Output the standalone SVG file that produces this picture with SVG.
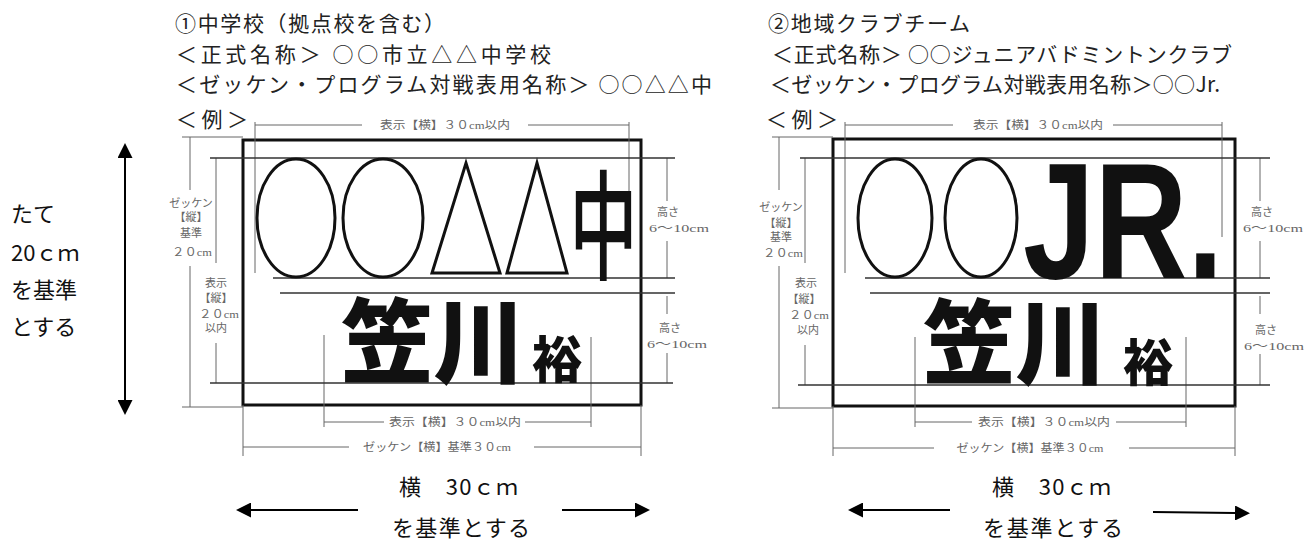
<svg xmlns="http://www.w3.org/2000/svg" width="1315" height="540" viewBox="0 0 1315 540">
<style>
.title{font-family:"Noto Sans CJK JP","Noto Sans",sans-serif;font-size:21px;fill:#222}
.big{font-family:"Noto Sans CJK JP",sans-serif;font-size:22px;fill:#111}
.dimt{font-family:"Liberation Serif","Noto Sans CJK JP",serif;font-size:11px;fill:#666;text-anchor:middle}
.dim{stroke:#666;stroke-width:1;fill:none}
.row{stroke:#333;stroke-width:1.3;fill:none}
.bib{stroke:#111;stroke-width:3;fill:none}
.shape{stroke:#111;stroke-width:3;fill:none}
.name{font-family:"Noto Sans CJK JP",sans-serif;font-weight:900;fill:#111}
.arrow{stroke:#000;stroke-width:2;fill:none}
</style>
<defs>
<marker id="ah" viewBox="0 0 15 15" refX="0" refY="7.5" markerWidth="15" markerHeight="15" markerUnits="userSpaceOnUse" orient="auto-start-reverse"><path d="M0,0 L15,7.5 L0,15 Z" fill="#000"/></marker>
</defs>
<rect width="1315" height="540" fill="#fff"/>

<g id="titles-left">
<text class="title" x="175" y="31" textLength="270" lengthAdjust="spacing">①中学校（拠点校を含む）</text>
<text class="title" x="176" y="62" textLength="375" lengthAdjust="spacing">＜正式名称＞ ○○市立△△中学校</text>
<text class="title" x="176" y="92" textLength="536" lengthAdjust="spacing">＜ゼッケン・プログラム対戦表用名称＞ ○○△△中</text>
<text class="title" x="176" y="127" textLength="72" lengthAdjust="spacing">＜例＞</text>
</g>
<g id="titles-right">
<text class="title" x="768" y="31" textLength="202" lengthAdjust="spacing">②地域クラブチーム</text>
<text class="title" x="772" y="62" textLength="460" lengthAdjust="spacing">＜正式名称＞ ○○ジュニアバドミントンクラブ</text>
<text class="title" x="770" y="92" textLength="450" lengthAdjust="spacing">＜ゼッケン・プログラム対戦表用名称＞○○Jr.</text>
<text class="title" x="766" y="127" textLength="72" lengthAdjust="spacing">＜例＞</text>
</g>

<g id="bib-left">
<rect class="bib" x="243" y="140" width="398" height="265"/>
<path class="dim" d="M255,125 H362 M528,125 H629 M255,122 V273 M629,122 V237 M182,137 H243 M190,137 V190 M190,266 V407 M182,407 H243 M216,158 V263 M216,343 V383 M667,158 V201 M667,241 V278 M667,296 V314 M667,353 V383 M324,335 V427 M591,337 V427 M324,422 H384 M525,422 H591 M243,405 V456 M641,405 V456 M243,447 H349 M534,447 H641"/>
<path class="row" d="M210,158 H675 M273,278 H675 M280,293 H675 M210,383 H673"/>
<text class="dimt" x="445" y="129" textLength="130" lengthAdjust="spacingAndGlyphs">表示【横】３０cm以内</text>
<text class="dimt" x="455" y="426" textLength="132" lengthAdjust="spacingAndGlyphs">表示【横】３０cm以内</text>
<text class="dimt" x="437" y="451" textLength="148" lengthAdjust="spacingAndGlyphs">ゼッケン【横】基準３０cm</text>
<text class="dimt" x="191" y="207">ゼッケン</text>
<text class="dimt" x="191" y="221">【縦】</text>
<text class="dimt" x="191" y="237">基準</text>
<text class="dimt" x="192" y="256" textLength="40" lengthAdjust="spacingAndGlyphs">２０cm</text>
<text class="dimt" x="216" y="287">表示</text>
<text class="dimt" x="216" y="302">【縦】</text>
<text class="dimt" x="219" y="318" textLength="40" lengthAdjust="spacingAndGlyphs">２０cm</text>
<text class="dimt" x="216" y="332">以内</text>
<text class="dimt" x="668" y="216">高さ</text>
<text class="dimt" x="679" y="232" textLength="60" lengthAdjust="spacingAndGlyphs">6～10cm</text>
<text class="dimt" x="670" y="332">高さ</text>
<text class="dimt" x="677" y="348" textLength="60" lengthAdjust="spacingAndGlyphs">6～10cm</text>
<ellipse class="shape" cx="296" cy="218" rx="39" ry="59"/>
<ellipse class="shape" cx="383" cy="218" rx="40" ry="59"/>
<polygon class="shape" points="432,273 466,163 500,273"/>
<polygon class="shape" points="507,273 537,163 567,273"/>
<text class="name" style="font-weight:500" font-size="68" text-anchor="middle" transform="translate(603.5,0) scale(1,1.76)" x="0" y="154">中</text>
<text class="name" font-size="92" x="341" y="376">笠川</text>
<text class="name" font-size="50" x="532" y="378">裕</text>
</g>

<g id="bib-right">
<rect class="bib" x="833" y="139" width="402" height="267"/>
<path class="dim" d="M845,125 H953 M1113,125 H1222 M845,122 V273 M1222,122 V237 M772,137 H833 M779,137 V190 M779,266 V408 M772,408 H833 M805,158 V263 M805,345 V385 M1260,158 V201 M1260,241 V278 M1260,296 V314 M1260,354 V385 M915,337 V427 M1186,337 V427 M915,422 H972 M1116,422 H1186 M833,406 V456 M1235,406 V456 M833,448 H934 M1129,448 H1235"/>
<path class="row" d="M800,158 H1270 M865,278 H1270 M870,293 H1270 M798,385 H1270"/>
<text class="dimt" x="1038" y="129" textLength="130" lengthAdjust="spacingAndGlyphs">表示【横】３０cm以内</text>
<text class="dimt" x="1044" y="426" textLength="132" lengthAdjust="spacingAndGlyphs">表示【横】３０cm以内</text>
<text class="dimt" x="1030" y="452" textLength="147" lengthAdjust="spacingAndGlyphs">ゼッケン【横】基準３０cm</text>
<text class="dimt" x="781" y="211">ゼッケン</text>
<text class="dimt" x="781" y="227">【縦】</text>
<text class="dimt" x="781" y="241">基準</text>
<text class="dimt" x="783" y="257" textLength="40" lengthAdjust="spacingAndGlyphs">２０cm</text>
<text class="dimt" x="806" y="287">表示</text>
<text class="dimt" x="804" y="303">【縦】</text>
<text class="dimt" x="809" y="319" textLength="40" lengthAdjust="spacingAndGlyphs">２０cm</text>
<text class="dimt" x="808" y="334">以内</text>
<text class="dimt" x="1262" y="216">高さ</text>
<text class="dimt" x="1273" y="232" textLength="60" lengthAdjust="spacingAndGlyphs">6～10cm</text>
<text class="dimt" x="1266" y="334">高さ</text>
<text class="dimt" x="1274" y="350" textLength="60" lengthAdjust="spacingAndGlyphs">6～10cm</text>
<ellipse class="shape" cx="895" cy="218" rx="37" ry="59"/>
<ellipse class="shape" cx="981" cy="218" rx="36" ry="59"/>
<text font-family="Liberation Sans, Arial, sans-serif" font-weight="bold" font-size="166" fill="#111" transform="translate(1023,278) scale(0.775,1)" x="0" y="0">JR.</text>
<text class="name" font-size="92" x="923" y="377">笠川</text>
<text class="name" font-size="50" x="1123" y="381">裕</text>
</g>

<g id="label-tate">
<text class="big" x="11" y="222">たて</text>
<text class="big" x="11" y="261">20ｃｍ</text>
<text class="big" x="11" y="298">を基準</text>
<text class="big" x="11" y="335">とする</text>
</g>
<g id="label-yoko-left">
<text class="big" x="399" y="495" textLength="119" lengthAdjust="spacing">横　30ｃｍ</text>
<text class="big" x="392" y="536" textLength="138" lengthAdjust="spacing">を基準とする</text>
</g>
<g id="label-yoko-right">
<text class="big" x="992" y="495" textLength="119" lengthAdjust="spacing">横　30ｃｍ</text>
<text class="big" x="983" y="536" textLength="140" lengthAdjust="spacing">を基準とする</text>
</g>

<g id="connectors">
<line class="arrow" x1="125" y1="158" x2="125" y2="400" marker-start="url(#ah)" marker-end="url(#ah)"/>
<line class="arrow" x1="358" y1="510" x2="251" y2="510" marker-end="url(#ah)"/>
<line class="arrow" x1="562" y1="510" x2="635" y2="510" marker-end="url(#ah)"/>
<line class="arrow" x1="950" y1="510" x2="863" y2="510" marker-end="url(#ah)"/>
<line class="arrow" x1="1153" y1="512" x2="1235" y2="513" marker-end="url(#ah)"/>
</g>
</svg>
